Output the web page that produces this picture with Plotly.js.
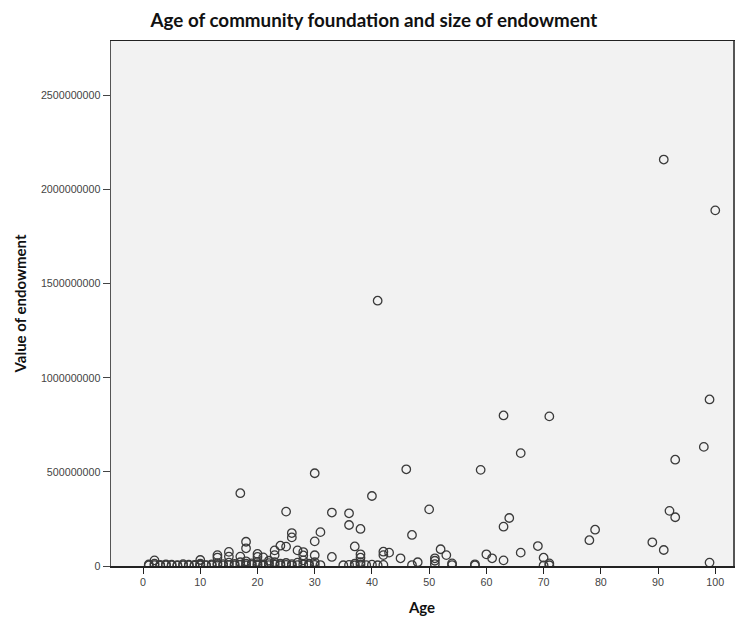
<!DOCTYPE html>
<html>
<head>
<meta charset="utf-8">
<script src="https://cdn.plot.ly/plotly-3.0.1.min.js"></script>
<style>html,body{margin:0;padding:0;background:#fff;}#chart{width:736px;height:617px;}</style>
</head>
<body>
<div id="chart"></div>
<script>
// Age of community foundation (years)
const ageHigh = [91, 100, 41, 63, 71, 99, 98, 93, 66, 46, 59, 30, 17, 40, 50, 25, 33, 36, 92, 93,
  64, 63, 36, 38, 31, 79, 26, 26, 47, 78, 89, 30, 18, 24, 25, 37, 69, 18, 52, 91,
  23, 27, 28, 42, 43, 66, 15, 13, 30, 20, 38, 42, 53, 60, 33, 38, 45, 51, 61, 70,
  21, 20, 23, 28, 17, 15, 13, 10, 2, 51, 63, 48, 54, 71, 99, 58];
// Value of endowment (dollars)
const valueHigh = [2160e6, 1890e6, 1410e6, 800e6, 795e6, 885e6, 633e6, 565e6, 600e6, 514e6,
  511e6, 493e6, 387e6, 372e6, 301e6, 289e6, 284e6, 280e6, 293e6, 259e6,
  255e6, 209e6, 218e6, 197e6, 180e6, 193e6, 175e6, 152e6, 165e6, 137e6,
  126e6, 131e6, 129e6, 108e6, 103e6, 104e6, 106e6, 94e6, 89e6, 85e6,
  83e6, 83e6, 74e6, 76e6, 71e6, 71e6, 75e6, 58e6, 57e6, 64e6,
  62e6, 58e6, 58e6, 62e6, 48e6, 44e6, 41e6, 41e6, 41e6, 44e6,
  46e6, 48e6, 58e6, 56e6, 50e6, 50e6, 45e6, 32e6, 30e6, 28e6,
  30e6, 20e6, 14e6, 14e6, 18e6, 9e6];
// Foundations with small endowments (near zero)
const ageLow = [1, 1, 2, 2, 3, 3, 4, 4, 5, 5, 6, 6, 7, 7, 8, 8, 9, 9, 10, 10, 10, 11, 11, 12, 12,
  13, 13, 14, 14, 15, 15, 16, 16, 17, 17, 18, 18, 18, 19, 19, 20, 20, 20, 21, 21, 22, 22, 22,
  23, 23, 24, 24, 25, 25, 26, 26, 27, 27, 28, 28, 29, 29, 30, 30, 31, 35, 36, 37, 37, 38, 38,
  39, 40, 41, 42, 47, 51, 54, 58, 70, 71];
const valueLow = [3e6, 8e6, 5e6, 12e6, 2e6, 6e6, 4e6, 9e6, 3e6, 7e6, 5e6, 2e6, 4e6, 10e6, 3e6, 7e6,
  6e6, 2e6, 4e6, 12e6, 8e6, 5e6, 3e6, 9e6, 4e6, 6e6, 15e6, 3e6, 10e6, 5e6, 18e6, 4e6, 11e6,
  7e6, 20e6, 3e6, 12e6, 25e6, 6e6, 14e6, 4e6, 10e6, 22e6, 8e6, 3e6, 5e6, 15e6, 28e6, 7e6, 20e6,
  4e6, 12e6, 6e6, 16e6, 3e6, 10e6, 5e6, 18e6, 8e6, 30e6, 4e6, 12e6, 6e6, 20e6, 5e6, 4e6, 6e6,
  3e6, 12e6, 8e6, 20e6, 5e6, 7e6, 4e6, 6e6, 5e6, 10e6, 5e6, 3e6, 3e6, 4e6];
const yTicks = [0, 500000000, 1000000000, 1500000000, 2000000000, 2500000000];
const xTicks = [0, 10, 20, 30, 40, 50, 60, 70, 80, 90, 100];

const ages = ageHigh.concat(ageLow);
const values = valueHigh.concat(valueLow);

const trace = {
  x: ages, y: values, type: 'scatter', mode: 'markers', cliponaxis: true,
  marker: {symbol: 'circle-open', size: 8.5, color: '#3a3a3a', line: {width: 1.3, color: '#3a3a3a'}},
  hoverinfo: 'x+y'
};

const tickFont = {family: 'Liberation Sans, Arial, sans-serif', size: 10.7, color: '#444'};
const layout = {
  width: 736, height: 617,
  margin: {l: 111, r: 3, t: 41, b: 51, pad: 0},
  paper_bgcolor: '#ffffff', plot_bgcolor: '#f2f2f2',
  showlegend: false,
  title: {text: '<b>Age of community foundation and size of endowment</b>',
    font: {family: 'Lato, Liberation Sans, sans-serif', size: 18.8, color: '#111'},
    x: 0.508, xanchor: 'center', y: 0.967, yanchor: 'middle'},
  xaxis: {range: [-5.6, 103.1], tickvals: xTicks, ticktext: xTicks.map(String),
    ticks: 'outside', ticklen: 6, tickcolor: '#222', tickwidth: 1,
    showgrid: false, zeroline: false, showline: true, linecolor: '#222', linewidth: 1.5, mirror: true,
    tickfont: tickFont,
    title: {text: '<b>Age</b>', font: {family: 'Lato, Liberation Sans, sans-serif', size: 15, color: '#111'}, standoff: 15}},
  yaxis: {range: [0, 2.79e9], tickvals: yTicks, ticktext: yTicks.map(String),
    ticks: 'outside', ticklen: 7, tickcolor: '#444', tickwidth: 1,
    showgrid: false, zeroline: false, showline: true, linecolor: '#555', linewidth: 1.5, mirror: true,
    tickfont: tickFont,
    title: {text: '<b>Value of endowment</b>', font: {family: 'Lato, Liberation Sans, sans-serif', size: 15, color: '#111'}, standoff: 10}}
};

Plotly.newPlot('chart', [trace], layout, {displayModeBar: false, staticPlot: true});
</script>
</body>
</html>
